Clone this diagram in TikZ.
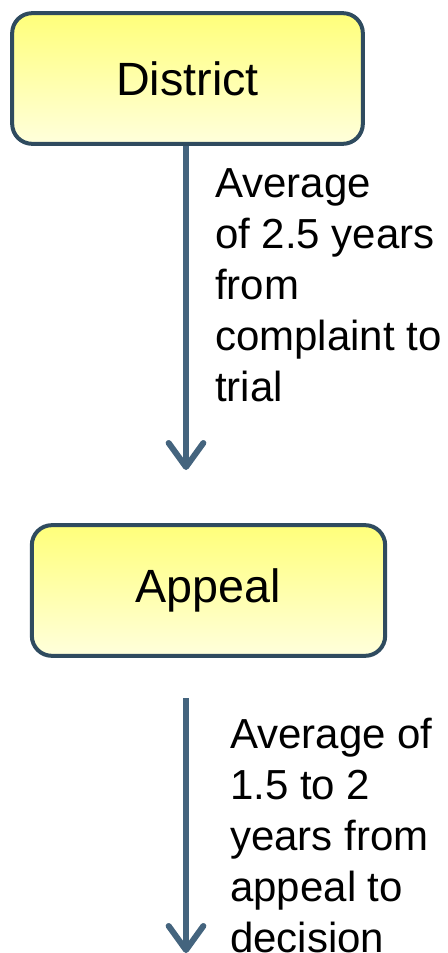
\documentclass[tikz,border=0pt]{standalone}
\usepackage{fontspec}
\setmainfont{Liberation Sans}
\usetikzlibrary{arrows.meta,positioning}
\definecolor{boxline}{HTML}{2F4B5F}
\definecolor{flowblue}{HTML}{44647E}
\definecolor{boxtop}{HTML}{FFFF7A}
\definecolor{boxbottom}{HTML}{FFFFDC}
\tikzset{
  courtnode/.style={
    rectangle, rounded corners=15pt, draw=boxline, line width=3pt,
    top color=boxtop, bottom color=boxbottom,
    minimum width=263pt, minimum height=98pt,
    font=\fontsize{35}{42}\selectfont
  },
  flowarrow/.style={-{Straight Barb[length=18pt,width=26pt,round]}, line width=4.5pt, color=flowblue},
  timenote/.style={
    anchor=base west, align=left, inner sep=0pt,
    font=\fontsize{31.5}{38.25}\selectfont
  },
}
\begin{document}
\begin{tikzpicture}[x=0.75pt,y=-0.75pt]
  \useasboundingbox (0,0) rectangle (448,953);
  \node[courtnode] (district) at (187.5,78.5) {District};
  \node[courtnode, minimum width=265pt] (appeal) at (208.5,590.5) {Appeal};
  \coordinate (trialend) at (186,470);
  \coordinate (decisionstart) at (186,698);
  \coordinate (decisionend) at (186,953);
  \draw[flowarrow] (district.south -| trialend) -- (trialend);
  \draw[flowarrow] (decisionstart) -- (decisionend);
  % base anchor sits on the last line
  \node[timenote] (trialnote) at (215,401) {Average\\of 2.5 years\\from\\complaint to\\trial};
  \node[timenote] (decisionnote) at (230,952) {Average of\\1.5 to 2\\years from\\appeal to\\decision};
\end{tikzpicture}
\end{document}
